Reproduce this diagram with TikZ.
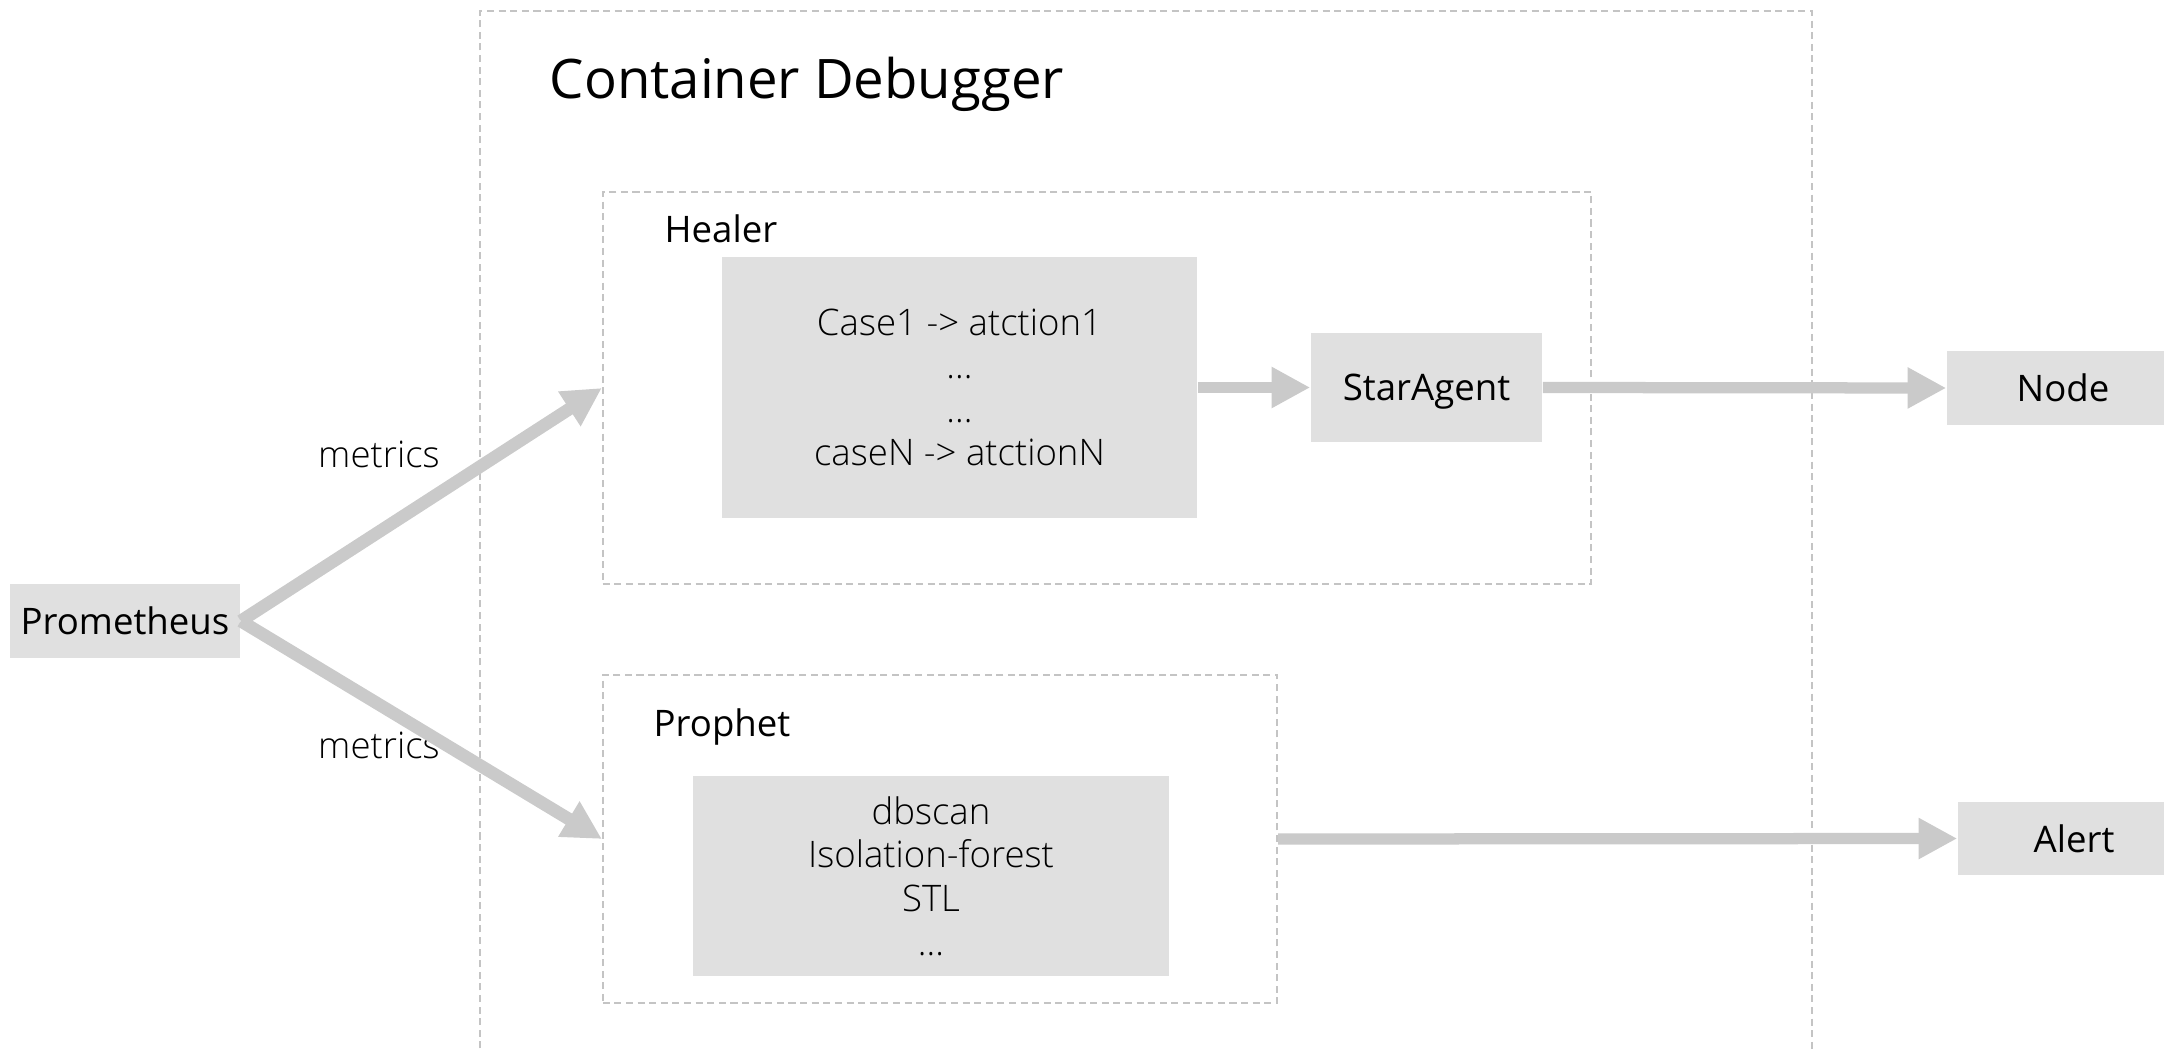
\documentclass[tikz,border=0pt]{standalone}
\usepackage{fontspec}
\setmainfont{Open Sans}
\newfontfamily\thinfont{Open Sans Light}
\usetikzlibrary{arrows.meta,positioning}
\definecolor{boxgray}{HTML}{E0E0E0}
\definecolor{arrowgray}{HTML}{CACACA}
\definecolor{dashgray}{HTML}{C4C4C4}
\tikzset{
  dashframe/.style={draw=dashgray, line width=0.5pt, dash pattern=on 2pt off 1.3pt, inner sep=0pt},
  graybox/.style={fill=boxgray, inner sep=0pt, align=center, font=\fontsize{10.4}{12.4}\selectfont},
  thinbox/.style={graybox, font=\fontsize{10.4}{12.4}\selectfont\thinfont},
  label text/.style={inner sep=0pt, anchor=base west, font=\fontsize{10.4}{12.4}\selectfont},
  flow/.style={draw=arrowgray, line width=3.2pt, -{Triangle[length=11pt,width=11pt]}},
}

\begin{document}
\begin{tikzpicture}[x=0.01cm, y=-0.01cm]
  \useasboundingbox (0,0) rectangle (2164,1049);

  % outer frame, open at the bottom
  \draw[dashframe] (480,1060) -- (480,11) -- (1812,11) -- (1812,1060);
  \node[inner sep=0pt, anchor=base west, font=\fontsize{15.5}{18}\selectfont] (title) at (549,99) {Container Debugger};

  % Healer
  \node[dashframe, minimum width=9.88cm, minimum height=3.92cm] (healer) at (1097,388) {};
  \node[label text] (healerlbl) at (664,243) {Healer};
  \node[thinbox, minimum width=4.75cm, minimum height=2.61cm] (rules) at (959.5,387.5)
       {Case1 -> atction1\\...\\...\\caseN -> atctionN};
  \node[graybox, minimum width=2.31cm, minimum height=1.09cm, text depth=0pt] (staragent) at (1426.5,387.5) {StarAgent};
  \node[graybox, minimum width=2.32cm, minimum height=0.74cm] (nodehost) at (2063,388) {Node};

  % Prophet
  \node[dashframe, minimum width=6.74cm, minimum height=3.28cm] (prophet) at (940,839) {};
  \node[label text] (prophetlbl) at (653,736) {Prophet};
  \node[thinbox, minimum width=4.76cm, minimum height=2.00cm] (algos) at (931,876)
       {dbscan\\Isolation-forest\\STL\\...};
  \node[graybox, minimum width=2.32cm, minimum height=0.73cm] (alert) at (2074,838.5) {Alert};

  % source
  \node[graybox, minimum width=2.30cm, minimum height=0.73cm] (prometheus) at (125,621) {Prometheus};
  \node[inner sep=0pt, font=\fontsize{10.4}{12.4}\selectfont\thinfont] (metricsup) at (379,454) {metrics};
  \node[inner sep=0pt, font=\fontsize{10.4}{12.4}\selectfont\thinfont] (metricsdown) at (379,745) {metrics};

  % arrows
  \draw[flow, line width=3.6pt] (prometheus.east) -- (healer.west);
  \draw[flow, line width=3.6pt] (prometheus.east) -- (prophet.west);
  \draw[flow] (rules.east) -- (staragent.west);
  \draw[flow] (staragent.east) -- (nodehost.west);
  \draw[flow] (prophet.east) -- (alert.west);
\end{tikzpicture}
\end{document}
